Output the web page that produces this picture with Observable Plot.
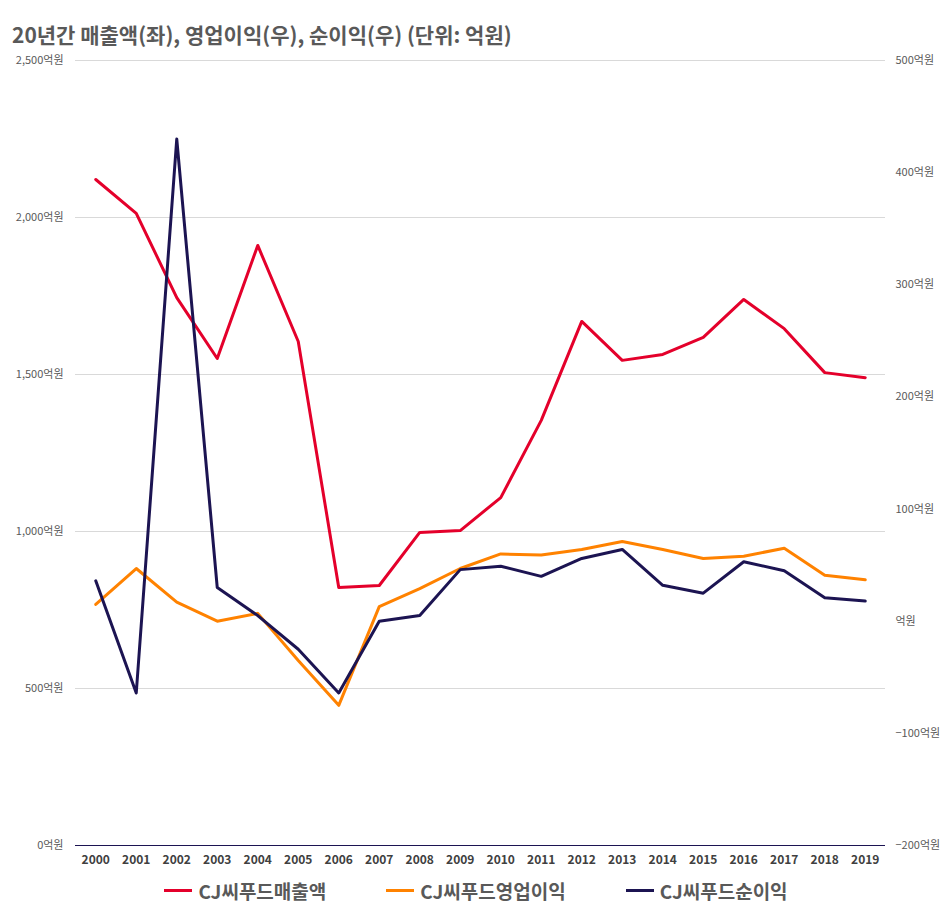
<!DOCTYPE html>
<html><head><meta charset="utf-8">
<script src="https://cdn.jsdelivr.net/npm/d3@7"></script>
<script src="https://cdn.jsdelivr.net/npm/@observablehq/plot@0.6"></script>
<style>
body{margin:0;background:#fff;font-family:"Noto Sans CJK KR","Noto Sans",sans-serif;}
#title{height:48px;box-sizing:border-box;padding:22px 0 0 12px;font-size:21px;font-weight:bold;color:#595959;line-height:24px}
#legend{display:flex;justify-content:center;gap:60px;font-size:19px;font-weight:bold;color:#595959;margin-top:2px}
#legend span{display:flex;align-items:center;gap:6px}
#legend i{display:inline-block;width:28px;height:3px}
</style></head><body>
<div id="title">20년간 매출액(좌), 영업이익(우), 순이익(우) (단위: 억원)</div>
<div id="chart"></div>
<div id="legend"></div>
<script>
const years = d3.range(2000, 2020);
const revenue = [2121,2013,1745,1551,1911,1605,822,828,997,1003,1108,1354,1669,1545,1564,1618,1739,1646,1506,1490];
const opProfit = [15,47,17,0,7,-35,-75,13,29,47,60,59,64,71,64,56,58,65,41,37];
const netProfit = [36,-64,430,30,5,-25,-64,0,5,46,49,40,56,64,32,25,53,45,21,18];
const leftTicks = [0,500,1000,1500,2000,2500];
const rightTicks = [-200,-100,0,100,200,300,400,500];
const names = ["CJ씨푸드매출액","CJ씨푸드영업이익","CJ씨푸드순이익"];
const colors = ["#e4002b","#ff8200","#1c1452"];
const toLeft = v => (v + 200) * 2500 / 700;
const rows = [];
years.forEach((y,i)=>{
  rows.push({year:y,s:names[0],v:revenue[i]});
  rows.push({year:y,s:names[1],v:toLeft(opProfit[i])});
  rows.push({year:y,s:names[2],v:toLeft(netProfit[i])});
});
const fmt = d3.format(",");
const chart = Plot.plot({
  width:952, height:827, marginTop:12, marginBottom:30, marginLeft:75, marginRight:67,
  style:{fontFamily:"'Noto Sans CJK KR','Noto Sans',sans-serif"},
  x:{domain:[1999.5,2019.5]},
  y:{domain:[0,2500]},
  color:{domain:names, range:colors},
  marks:[
    Plot.gridY(leftTicks.slice(1),{stroke:"#d9d9d9",strokeOpacity:1}),
    Plot.ruleY([0],{stroke:"#1c1452"}),
    Plot.axisY(leftTicks,{anchor:"left",tickSize:0,tickPadding:12,label:null,tickFormat:d=>fmt(d)+"억원",fill:"#595959",fontSize:11}),
    Plot.axisY(rightTicks.map(toLeft),{anchor:"right",tickSize:0,tickPadding:10,label:null,tickFormat:(d,i)=>(rightTicks[i]===0?"":fmt(rightTicks[i]))+"억원",fill:"#595959",fontSize:11}),
    Plot.axisX(years,{tickSize:0,tickPadding:10,label:null,tickFormat:d=>String(d),fill:"#404040",fontWeight:"bold",fontSize:12}),
    Plot.line(rows,{x:"year",y:"v",z:"s",stroke:"s",strokeWidth:3})
  ]
});
document.getElementById("chart").appendChild(chart);
document.getElementById("legend").innerHTML = names.map((n,i)=>`<span><i style="background:${colors[i]}"></i>${n}</span>`).join("");
</script>
</body></html>
